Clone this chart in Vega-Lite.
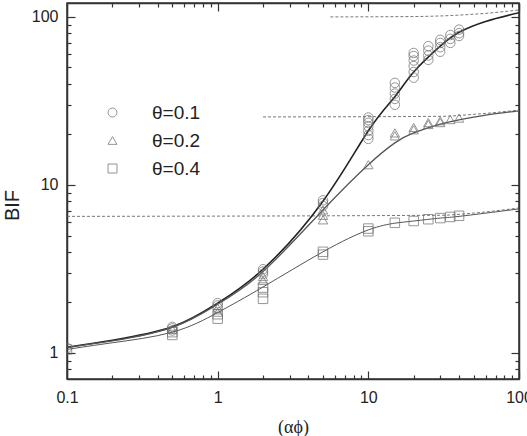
{
  "$schema": "https://vega.github.io/schema/vega-lite/v6.json",
  "width": 452,
  "height": 376,
  "autosize": {"type": "none"},
  "padding": {"left": 67, "top": 3, "right": 8, "bottom": 57},
  "background": "white",
  "config": {
    "view": {"stroke": "#333", "strokeWidth": 1.5},
    "axis": {"grid": false, "domainColor": "#333", "domainWidth": 1.5, "tickColor": "#333", "tickWidth": 1.2, "labelFont": "Liberation Sans", "labelFontSize": 16, "labelColor": "#222", "titleColor": "#222", "titleFontWeight": "normal", "labelOverlap": false, "labelFlush": false, "labelBound": false}
  },
  "datasets": {
    "pts": [
      {"x": 0.1, "y": 1.07, "t": "θ=0.1"},
      {"x": 0.5, "y": 1.36, "t": "θ=0.1"}, {"x": 0.5, "y": 1.40, "t": "θ=0.1"}, {"x": 0.5, "y": 1.43, "t": "θ=0.1"},
      {"x": 1, "y": 1.85, "t": "θ=0.1"}, {"x": 1, "y": 1.92, "t": "θ=0.1"}, {"x": 1, "y": 1.98, "t": "θ=0.1"},
      {"x": 2, "y": 2.95, "t": "θ=0.1"}, {"x": 2, "y": 3.05, "t": "θ=0.1"}, {"x": 2, "y": 3.15, "t": "θ=0.1"},
      {"x": 5, "y": 7.5, "t": "θ=0.1"}, {"x": 5, "y": 7.8, "t": "θ=0.1"}, {"x": 5, "y": 8.1, "t": "θ=0.1"},
      {"x": 10, "y": 18.8, "t": "θ=0.1"}, {"x": 10, "y": 19.8, "t": "θ=0.1"}, {"x": 10, "y": 21, "t": "θ=0.1"}, {"x": 10, "y": 22.3, "t": "θ=0.1"}, {"x": 10, "y": 23.4, "t": "θ=0.1"}, {"x": 10, "y": 24.3, "t": "θ=0.1"}, {"x": 10, "y": 25.2, "t": "θ=0.1"},
      {"x": 15, "y": 30, "t": "θ=0.1"}, {"x": 15, "y": 32.5, "t": "θ=0.1"}, {"x": 15, "y": 35, "t": "θ=0.1"}, {"x": 15, "y": 38, "t": "θ=0.1"}, {"x": 15, "y": 40.5, "t": "θ=0.1"},
      {"x": 20, "y": 43.5, "t": "θ=0.1"}, {"x": 20, "y": 47, "t": "θ=0.1"}, {"x": 20, "y": 51, "t": "θ=0.1"}, {"x": 20, "y": 55, "t": "θ=0.1"}, {"x": 20, "y": 58.5, "t": "θ=0.1"}, {"x": 20, "y": 61, "t": "θ=0.1"},
      {"x": 25, "y": 55.5, "t": "θ=0.1"}, {"x": 25, "y": 59, "t": "θ=0.1"}, {"x": 25, "y": 63, "t": "θ=0.1"}, {"x": 25, "y": 67, "t": "θ=0.1"},
      {"x": 30, "y": 62, "t": "θ=0.1"}, {"x": 30, "y": 66, "t": "θ=0.1"}, {"x": 30, "y": 70, "t": "θ=0.1"}, {"x": 30, "y": 73, "t": "θ=0.1"},
      {"x": 35, "y": 70, "t": "θ=0.1"}, {"x": 35, "y": 74, "t": "θ=0.1"}, {"x": 35, "y": 78, "t": "θ=0.1"},
      {"x": 40, "y": 77, "t": "θ=0.1"}, {"x": 40, "y": 80, "t": "θ=0.1"}, {"x": 40, "y": 84, "t": "θ=0.1"},
      {"x": 0.5, "y": 1.38, "t": "θ=0.2"},
      {"x": 1, "y": 1.75, "t": "θ=0.2"}, {"x": 1, "y": 1.85, "t": "θ=0.2"},
      {"x": 2, "y": 2.7, "t": "θ=0.2"}, {"x": 2, "y": 2.85, "t": "θ=0.2"},
      {"x": 5, "y": 6.2, "t": "θ=0.2"}, {"x": 5, "y": 6.6, "t": "θ=0.2"}, {"x": 5, "y": 7.1, "t": "θ=0.2"},
      {"x": 10, "y": 13.2, "t": "θ=0.2"},
      {"x": 15, "y": 19.6, "t": "θ=0.2"}, {"x": 15, "y": 20.4, "t": "θ=0.2"},
      {"x": 20, "y": 21.3, "t": "θ=0.2"}, {"x": 20, "y": 22, "t": "θ=0.2"},
      {"x": 25, "y": 22.9, "t": "θ=0.2"}, {"x": 25, "y": 23.5, "t": "θ=0.2"},
      {"x": 30, "y": 23.5, "t": "θ=0.2"}, {"x": 30, "y": 24.1, "t": "θ=0.2"},
      {"x": 35, "y": 24.5, "t": "θ=0.2"},
      {"x": 40, "y": 25, "t": "θ=0.2"},
      {"x": 0.1, "y": 1.05, "t": "θ=0.4"},
      {"x": 0.5, "y": 1.28, "t": "θ=0.4"}, {"x": 0.5, "y": 1.33, "t": "θ=0.4"},
      {"x": 1, "y": 1.6, "t": "θ=0.4"}, {"x": 1, "y": 1.7, "t": "θ=0.4"},
      {"x": 2, "y": 2.1, "t": "θ=0.4"}, {"x": 2, "y": 2.3, "t": "θ=0.4"}, {"x": 2, "y": 2.45, "t": "θ=0.4"},
      {"x": 5, "y": 3.85, "t": "θ=0.4"}, {"x": 5, "y": 4.0, "t": "θ=0.4"},
      {"x": 10, "y": 5.3, "t": "θ=0.4"}, {"x": 10, "y": 5.5, "t": "θ=0.4"},
      {"x": 15, "y": 5.95, "t": "θ=0.4"},
      {"x": 20, "y": 6.1, "t": "θ=0.4"},
      {"x": 25, "y": 6.25, "t": "θ=0.4"},
      {"x": 30, "y": 6.35, "t": "θ=0.4"},
      {"x": 35, "y": 6.45, "t": "θ=0.4"},
      {"x": 40, "y": 6.55, "t": "θ=0.4"}
    ],
    "curves": [
      {"x": 0.1, "y": 1.08, "c": "a"}, {"x": 0.2, "y": 1.19, "c": "a"}, {"x": 0.5, "y": 1.43, "c": "a"}, {"x": 1, "y": 1.98, "c": "a"}, {"x": 2, "y": 3.15, "c": "a"}, {"x": 5, "y": 8.0, "c": "a"}, {"x": 10, "y": 21, "c": "a"}, {"x": 15, "y": 33.5, "c": "a"}, {"x": 20, "y": 47, "c": "a"}, {"x": 30, "y": 67, "c": "a"}, {"x": 40, "y": 81, "c": "a"}, {"x": 60, "y": 94, "c": "a"}, {"x": 100, "y": 106, "c": "a"},
      {"x": 0.1, "y": 1.08, "c": "b"}, {"x": 0.2, "y": 1.18, "c": "b"}, {"x": 0.5, "y": 1.42, "c": "b"}, {"x": 1, "y": 1.95, "c": "b"}, {"x": 2, "y": 3.05, "c": "b"}, {"x": 5, "y": 7.1, "c": "b"}, {"x": 10, "y": 13.2, "c": "b"}, {"x": 15, "y": 17.8, "c": "b"}, {"x": 20, "y": 20.4, "c": "b"}, {"x": 30, "y": 23, "c": "b"}, {"x": 40, "y": 24.4, "c": "b"}, {"x": 60, "y": 26, "c": "b"}, {"x": 100, "y": 27.6, "c": "b"},
      {"x": 0.1, "y": 1.05, "c": "d"}, {"x": 0.2, "y": 1.15, "c": "d"}, {"x": 0.5, "y": 1.33, "c": "d"}, {"x": 1, "y": 1.74, "c": "d"}, {"x": 2, "y": 2.47, "c": "d"}, {"x": 5, "y": 4.0, "c": "d"}, {"x": 10, "y": 5.4, "c": "d"}, {"x": 15, "y": 5.92, "c": "d"}, {"x": 20, "y": 6.1, "c": "d"}, {"x": 30, "y": 6.35, "c": "d"}, {"x": 40, "y": 6.5, "c": "d"}, {"x": 100, "y": 7.2, "c": "d"}
    ],
    "dashed": [
      {"x": 5.6, "y": 100, "g": "a"}, {"x": 20, "y": 100.5, "g": "a"}, {"x": 40, "y": 102.5, "g": "a"}, {"x": 60, "y": 105, "g": "a"}, {"x": 100, "y": 110, "g": "a"},
      {"x": 2, "y": 25.4, "g": "b"}, {"x": 30, "y": 25.6, "g": "b"}, {"x": 50, "y": 26.3, "g": "b"}, {"x": 100, "y": 27.9, "g": "b"},
      {"x": 0.1, "y": 6.5, "g": "c"}, {"x": 30, "y": 6.6, "g": "c"}, {"x": 50, "y": 6.8, "g": "c"}, {"x": 100, "y": 7.3, "g": "c"}
    ]
  },
  "layer": [
    {
      "data": {"name": "dashed"},
      "mark": {"type": "line", "strokeDash": [3, 2], "strokeWidth": 0.8, "color": "#555", "interpolate": "monotone", "clip": true},
      "encoding": {
        "x": {"field": "x", "type": "quantitative", "scale": {"type": "log", "domain": [0.1, 100], "nice": false},
          "axis": {"orient": "bottom", "values": [0.1,0.2,0.3,0.4,0.5,0.6,0.7,0.8,0.9,1,2,3,4,5,6,7,8,9,10,20,30,40,50,60,70,80,90,100],
            "labelExpr": "datum.value == 0.1 || datum.value == 1 || datum.value == 10 || datum.value == 100 ? toString(datum.value) : ''",
            "tickSize": {"condition": {"test": "datum.value == 0.1 || datum.value == 1 || datum.value == 10 || datum.value == 100", "value": -8}, "value": -4},
            "labelPadding": 18,
            "title": "(αϕ)", "titleFont": "Liberation Serif", "titleFontSize": 18, "titleBaseline": "alphabetic", "titleY": 53, "titleX": 226}},
        "y": {"field": "y", "type": "quantitative", "scale": {"type": "log", "domain": [0.7, 121], "nice": false},
          "axis": {"orient": "left", "values": [0.8,0.9,1,2,3,4,5,6,7,8,9,10,20,30,40,50,60,70,80,90,100],
            "labelExpr": "datum.value == 1 || datum.value == 10 || datum.value == 100 ? toString(datum.value) : ''",
            "tickSize": {"condition": {"test": "datum.value == 1 || datum.value == 10 || datum.value == 100", "value": -8}, "value": -4},
            "labelPadding": 17,
            "title": "BIF", "titleFont": "Liberation Sans", "titleFontSize": 20, "titleAngle": -90, "titleBaseline": "alphabetic", "titleAlign": "center", "titleX": -49, "titleY": 202}},
        "detail": {"field": "g"}
      }
    },
    {
      "data": {"name": "curves"},
      "mark": {"type": "line", "interpolate": "natural", "clip": true},
      "encoding": {
        "x": {"field": "x", "type": "quantitative", "scale": {"type": "log", "domain": [0.1, 100], "nice": false},
          "axis": {"orient": "top", "values": [0.1,0.2,0.3,0.4,0.5,0.6,0.7,0.8,0.9,1,2,3,4,5,6,7,8,9,10,20,30,40,50,60,70,80,90,100], "labels": false, "title": null,
            "tickSize": {"condition": {"test": "datum.value == 0.1 || datum.value == 1 || datum.value == 10 || datum.value == 100", "value": -8}, "value": -4}}},
        "y": {"field": "y", "type": "quantitative", "scale": {"type": "log", "domain": [0.7, 121], "nice": false},
          "axis": {"orient": "right", "values": [0.8,0.9,1,2,3,4,5,6,7,8,9,10,20,30,40,50,60,70,80,90,100], "labels": false, "title": null,
            "tickSize": {"condition": {"test": "datum.value == 1 || datum.value == 10 || datum.value == 100", "value": -8}, "value": -4}}},
        "detail": {"field": "c"},
        "color": {"field": "c", "type": "nominal", "scale": {"domain": ["a", "b", "d"], "range": ["#222222", "#555555", "#555555"]}, "legend": null},
        "strokeWidth": {"field": "c", "type": "nominal", "scale": {"domain": ["a", "b", "d"], "range": [1.6, 1, 1]}, "legend": null}
      }
    },
    {
      "data": {"name": "pts"},
      "mark": {"type": "point", "filled": false, "color": "#6a6a6a", "strokeWidth": 1, "size": 90, "clip": true},
      "encoding": {
        "x": {"field": "x", "type": "quantitative", "scale": {"type": "log", "domain": [0.1, 100], "nice": false}, "axis": null},
        "y": {"field": "y", "type": "quantitative", "scale": {"type": "log", "domain": [0.7, 121], "nice": false}, "axis": null},
        "shape": {"field": "t", "type": "nominal", "scale": {"domain": ["θ=0.1", "θ=0.2", "θ=0.4"], "range": ["circle", "triangle-up", "square"]},
          "legend": {"orient": "none", "legendX": 36, "legendY": 100, "title": null, "padding": 0, "symbolSize": 80, "symbolStrokeColor": "#666", "symbolStrokeWidth": 1, "symbolFillColor": "transparent", "labelFont": "Liberation Sans", "labelFontSize": 19, "labelColor": "#222", "labelOffset": 30, "rowPadding": 8}}
      }
    }
  ],
  "resolve": {"axis": {"x": "independent", "y": "independent"}}
}
